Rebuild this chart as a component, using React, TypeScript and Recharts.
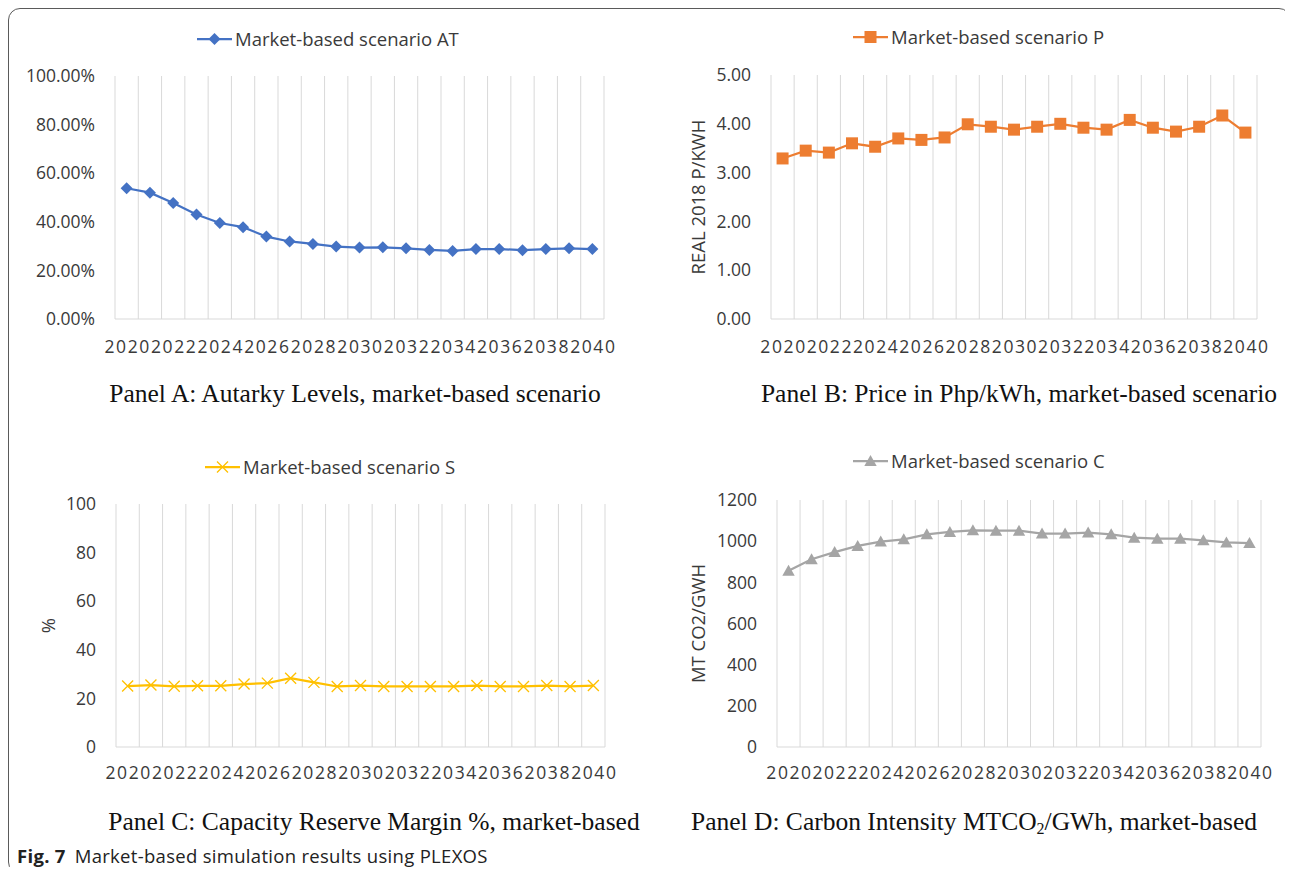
import React from 'react';
import { LineChart, Line, XAxis, YAxis, CartesianGrid, Legend, Label } from 'recharts';

// ---------- data ----------
const years = [2020, 2021, 2022, 2023, 2024, 2025, 2026, 2027, 2028, 2029, 2030, 2031, 2032, 2033, 2034, 2035, 2036, 2037, 2038, 2039, 2040];
const xTickYears = [2020, 2022, 2024, 2026, 2028, 2030, 2032, 2034, 2036, 2038, 2040];

const autarkyLevels = [53.8, 52.0, 47.7, 43.0, 39.5, 37.8, 33.9, 31.9, 30.9, 29.8, 29.4, 29.5, 29.1, 28.4, 28.0, 28.8, 28.8, 28.3, 28.8, 29.1, 28.8];
const pricePerKwh = [3.29, 3.45, 3.41, 3.6, 3.53, 3.7, 3.67, 3.72, 3.99, 3.94, 3.88, 3.94, 4.0, 3.92, 3.88, 4.08, 3.92, 3.84, 3.94, 4.17, 3.82];
const reserveMargin = [25.1, 25.5, 25.0, 25.2, 25.2, 25.9, 26.3, 28.3, 26.6, 24.9, 25.3, 24.9, 24.9, 24.9, 24.9, 25.3, 24.9, 24.9, 25.3, 24.9, 25.3];
const carbonIntensity = [856, 912, 947, 977, 998, 1009, 1033, 1045, 1053, 1051, 1051, 1037, 1037, 1042, 1033, 1017, 1012, 1012, 1004, 994, 991];

const autarkyTicks = [0, 20, 40, 60, 80, 100];
const priceTicks = [0, 1, 2, 3, 4, 5];
const reserveTicks = [0, 20, 40, 60, 80, 100];
const carbonTicks = [0, 200, 400, 600, 800, 1000, 1200];

const SANS = '"Open Sans", "Noto Sans", sans-serif';
const SERIF = '"Liberation Serif", "Times New Roman", serif';
const TEXT = '#3a3a3a';
const GRID = '#d9d9d9';

type MarkerKind = 'diamond' | 'square' | 'cross' | 'triangle';

const Marker = ({ kind, cx, cy, color }: { kind: MarkerKind; cx: number; cy: number; color: string }) => {
  if (kind === 'diamond') {
    const r = 6;
    return <path d={`M${cx},${cy - r}L${cx + r},${cy}L${cx},${cy + r}L${cx - r},${cy}Z`} fill={color} />;
  }
  if (kind === 'square') {
    const s = 6;
    return <rect x={cx - s} y={cy - s} width={2 * s} height={2 * s} fill={color} />;
  }
  if (kind === 'cross') {
    const s = 5.5;
    return (
      <path
        d={`M${cx - s},${cy - s}L${cx + s},${cy + s}M${cx - s},${cy + s}L${cx + s},${cy - s}`}
        stroke={color}
        strokeWidth={1.3}
        fill="none"
      />
    );
  }
  const w = 6.2;
  return <path d={`M${cx},${cy - 6}L${cx + w},${cy + 5}L${cx - w},${cy + 5}Z`} fill={color} />;
};

const YearTick = (props: any) => {
  const { x, y, payload } = props;
  return (
    <text x={x + 1} y={y} dy="0.71em" textAnchor="middle" fontSize={17.5} fill={TEXT} fontFamily={SANS} letterSpacing={1.6}>
      {payload.value}
    </text>
  );
};

const makeYLabel = (text: string, cxLocal: number) => (props: any) => {
  const vb = props.viewBox || { x: 0, y: 0, width: 0, height: 0 };
  const cy = vb.y + vb.height / 2;
  const x = vb.x + cxLocal;
  return (
    <text
      x={x}
      y={cy}
      transform={`rotate(-90 ${x} ${cy})`}
      textAnchor="middle"
      dominantBaseline="central"
      fontSize={18.5}
      fill={TEXT}
      fontFamily={SANS}
    >
      {text}
    </text>
  );
};

interface PanelProps {
  left: number;
  top: number;
  width: number;
  height: number;
  margin: { top: number; right: number; bottom: number; left: number };
  yWidth: number;
  values: number[];
  color: string;
  marker: MarkerKind;
  legendText: string;
  legendLeft: number;
  legendTop: number;
  yTicks: number[];
  yFormat: (v: number) => string;
  yLabel?: string;
  yLabelX?: number;
  xTickMargin: number;
}

const Panel = (p: PanelProps) => {
  const data = years.map((year, i) => ({ year, value: p.values[i] }));
  const domainMax = p.yTicks[p.yTicks.length - 1];
  return (
    <div style={{ position: 'absolute', left: p.left, top: p.top }}>
      <LineChart width={p.width} height={p.height} data={data} margin={p.margin}>
        <CartesianGrid
          horizontal={false}
          stroke={GRID}
          verticalCoordinatesGenerator={({ offset }: any) =>
            Array.from({ length: years.length + 1 }, (_, k) => offset.left + (k * offset.width) / years.length)
          }
        />
        <XAxis
          type="number"
          dataKey="year"
          domain={[years[0] - 0.5, years[years.length - 1] + 0.5]}
          ticks={xTickYears}
          interval={0}
          tickLine={false}
          tickSize={0}
          tickMargin={p.xTickMargin}
          axisLine={{ stroke: GRID }}
          height={40}
          tick={<YearTick />}
        />
        <YAxis
          type="number"
          domain={[0, domainMax]}
          ticks={p.yTicks}
          interval={0}
          tickFormatter={p.yFormat}
          axisLine={false}
          tickLine={false}
          tickSize={0}
          tickMargin={20}
          width={p.yWidth}
          tick={{ fontSize: 17.5, fill: TEXT, fontFamily: SANS }}
        >
          {p.yLabel ? <Label content={makeYLabel(p.yLabel, p.yLabelX || 17)} /> : null}
        </YAxis>
        <Legend
          layout="horizontal"
          verticalAlign="middle"
          align="center"
          wrapperStyle={{ left: p.legendLeft, top: p.legendTop, width: 'auto', height: 'auto' }}
          content={() => (
            <div style={{ display: 'flex', alignItems: 'center', fontFamily: SANS, fontSize: 18.5, color: TEXT, whiteSpace: 'nowrap' }}>
              <svg width={35} height={22} style={{ display: 'block' }}>
                <line x1={0} y1={11} x2={35} y2={11} stroke={p.color} strokeWidth={2.25} />
                <Marker kind={p.marker} cx={17.5} cy={11} color={p.color} />
              </svg>
              <span style={{ marginLeft: 3 }}>{p.legendText}</span>
            </div>
          )}
        />
        <Line
          type="linear"
          dataKey="value"
          stroke={p.color}
          strokeWidth={2.25}
          isAnimationActive={false}
          activeDot={false}
          dot={(d: any) => <Marker key={`m-${d.index}`} kind={p.marker} cx={d.cx} cy={d.cy} color={p.color} />}
        />
      </LineChart>
    </div>
  );
};

const Caption = ({ cx, cy, children }: { cx: number; cy: number; children: React.ReactNode }) => (
  <div
    style={{
      position: 'absolute',
      left: cx - 8 - 320,
      top: cy - 8 - 13,
      width: 640,
      textAlign: 'center',
      fontFamily: SERIF,
      fontSize: 25.5,
      lineHeight: '26px',
      color: '#111',
      whiteSpace: 'nowrap',
    }}
  >
    {children}
  </div>
);

export default function App() {
  return (
    <div style={{ position: 'relative', width: 1285, height: 859, overflow: 'hidden' }}>
      <div
        style={{
          position: 'absolute',
          left: 0,
          top: 0,
          width: 1281,
          height: 864,
          border: '1px solid #5a5a5a',
          borderRadius: 12,
          background: '#fff',
        }}
      />
      <Panel
        left={2}
        top={12}
        width={620}
        height={350}
        margin={{ top: 56, right: 26, bottom: 11, left: 0 }}
        yWidth={105}
        values={autarkyLevels}
        color="#4472C4"
        marker="diamond"
        legendText="Market-based scenario AT"
        legendLeft={187}
        legendTop={6}
        yTicks={autarkyTicks}
        yFormat={(v) => `${v.toFixed(2)}%`}
        xTickMargin={22}
      />
      <Panel
        left={672}
        top={12}
        width={605}
        height={350}
        margin={{ top: 55, right: 28, bottom: 11, left: 0 }}
        yWidth={91}
        values={pricePerKwh}
        color="#ED7D31"
        marker="square"
        legendText="Market-based scenario P"
        legendLeft={173}
        legendTop={4}
        yTicks={priceTicks}
        yFormat={(v) => v.toFixed(2)}
        yLabel="REAL 2018 P/KWH"
        yLabelX={17}
        xTickMargin={22}
      />
      <Panel
        left={2}
        top={440}
        width={620}
        height={350}
        margin={{ top: 56, right: 25, bottom: 11, left: 0 }}
        yWidth={106}
        values={reserveMargin}
        color="#FFC000"
        marker="cross"
        legendText="Market-based scenario S"
        legendLeft={195}
        legendTop={6}
        yTicks={reserveTicks}
        yFormat={(v) => `${v}`}
        yLabel="%"
        yLabelX={37}
        xTickMargin={20}
      />
      <Panel
        left={672}
        top={440}
        width={610}
        height={350}
        margin={{ top: 52, right: 29, bottom: 11, left: 0 }}
        yWidth={97}
        values={carbonIntensity}
        color="#A5A5A5"
        marker="triangle"
        legendText="Market-based scenario C"
        legendLeft={173}
        legendTop={0}
        yTicks={carbonTicks}
        yFormat={(v) => `${v}`}
        yLabel="MT CO2/GWH"
        yLabelX={17}
        xTickMargin={20}
      />
      <Caption cx={355} cy={394}>Panel A: Autarky Levels, market-based scenario</Caption>
      <Caption cx={1019} cy={394}>Panel B: Price in Php/kWh, market-based scenario</Caption>
      <Caption cx={374} cy={822}>Panel C: Capacity Reserve Margin %, market-based</Caption>
      <Caption cx={974} cy={822}>
        Panel D: Carbon Intensity MTCO
        <span style={{ fontSize: 16, verticalAlign: '-4px', lineHeight: 0 }}>2</span>/GWh, market-based
      </Caption>
      <div
        style={{
          position: 'absolute',
          left: 9,
          top: 856 - 8 - 11,
          fontFamily: SANS,
          fontSize: 18.5,
          lineHeight: '22px',
          color: '#222',
          whiteSpace: 'nowrap',
          letterSpacing: 0.3,
        }}
      >
        <b>Fig. 7</b>
        <span style={{ marginLeft: 9 }}>Market-based simulation results using PLEXOS</span>
      </div>
    </div>
  );
}
